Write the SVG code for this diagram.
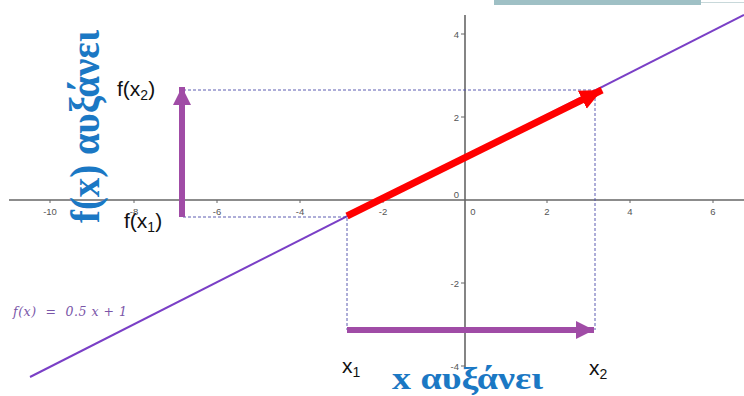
<svg xmlns="http://www.w3.org/2000/svg" width="744" height="396" viewBox="0 0 744 396">
<style>
.ax{stroke:#666;stroke-width:1.6;fill:none}
.tk{stroke:#666;stroke-width:1}
.tl{font-family:"Liberation Sans",Arial,sans-serif;font-size:9.5px;fill:#555}
.dash{stroke:#4a4aa8;stroke-width:0.9;stroke-dasharray:3 2;fill:none}
.lbl{font-family:"Liberation Sans",Arial,sans-serif;font-size:21px;fill:#111}
.big{font-family:"Liberation Serif","Times New Roman",serif;font-weight:bold;fill:#1b78c4}
.pa{stroke:#a04ca6;stroke-width:6;fill:none}
</style>
<defs>
<marker id="hp" markerUnits="userSpaceOnUse" markerWidth="20" markerHeight="20" viewBox="0 0 20 20" refX="18" refY="10" orient="auto">
<path d="M0,1 L18,10 L0,19 Z" fill="#a04ca6"/>
</marker>
<marker id="hr" markerUnits="userSpaceOnUse" markerWidth="24" markerHeight="22" viewBox="0 0 24 22" refX="22" refY="11" orient="auto">
<path d="M0,1 L22,11 L0,21 Z" fill="#ff0000"/>
</marker>
</defs>
<rect x="0" y="0" width="744" height="396" fill="#ffffff"/>
<g id="header-bar">
<rect x="494" y="0" width="207" height="5" fill="#9fc0c5"/>
<line x1="701" y1="2.5" x2="744" y2="2.5" stroke="#c8d8da" stroke-width="1"/>
</g>
<g id="axes">
<line class="ax" x1="9" y1="200" x2="744" y2="200"/>
<line class="ax" x1="465" y1="15" x2="465" y2="368"/>
<g class="tk">
<line x1="50" y1="200" x2="50" y2="203"/>
<line x1="134" y1="200" x2="134" y2="203"/>
<line x1="217" y1="200" x2="217" y2="203"/>
<line x1="300" y1="200" x2="300" y2="203"/>
<line x1="383" y1="200" x2="383" y2="203"/>
<line x1="547" y1="200" x2="547" y2="203"/>
<line x1="630" y1="200" x2="630" y2="203"/>
<line x1="713" y1="200" x2="713" y2="203"/>
<line x1="461" y1="34" x2="465" y2="34"/>
<line x1="461" y1="117" x2="465" y2="117"/>
<line x1="461" y1="283" x2="465" y2="283"/>
<line x1="461" y1="366" x2="465" y2="366"/>
</g>
<g class="tl" text-anchor="middle">
<text x="50" y="215">-10</text>
<text x="134" y="215">-8</text>
<text x="217" y="215">-6</text>
<text x="300" y="215">-4</text>
<text x="383" y="215">-2</text>
<text x="473" y="215">0</text>
<text x="547" y="215">2</text>
<text x="630" y="215">4</text>
<text x="713" y="215">6</text>
</g>
<g class="tl" text-anchor="end">
<text x="459" y="38">4</text>
<text x="459" y="121">2</text>
<text x="459" y="198">0</text>
<text x="459" y="287">-2</text>
<text x="459" y="370">-4</text>
</g>
</g>
<g id="function-line">
<line x1="30" y1="377" x2="744" y2="15" stroke="#7a3fc6" stroke-width="2"/>
<text x="13" y="316" font-family="'DejaVu Serif','Liberation Serif',serif" font-style="italic" font-size="12.5" fill="#7a56a8" textLength="114" lengthAdjust="spacing" xml:space="preserve">f(x)  =  0.5 x + 1</text>
</g>
<g id="connectors">
<path class="dash" d="M183,90 H595 V330"/>
<path class="dash" d="M183,217 H347 V330"/>
<line x1="347" y1="216" x2="602" y2="90" stroke="#ff0000" stroke-width="7" marker-end="url(#hr)"/>
<line class="pa" x1="182" y1="217" x2="182" y2="87" marker-end="url(#hp)"/>
<line class="pa" x1="347" y1="330" x2="594" y2="330" marker-end="url(#hp)"/>
</g>
<g id="labels">
<text class="lbl" x="117" y="96">f(x<tspan font-size="14" dy="4">2</tspan><tspan dy="-4">)</tspan></text>
<text class="lbl" x="124" y="228">f(x<tspan font-size="14" dy="4">1</tspan><tspan dy="-4">)</tspan></text>
<text class="lbl" x="342" y="373">x<tspan font-size="14" dy="4">1</tspan></text>
<text class="lbl" x="589" y="375">x<tspan font-size="14" dy="4">2</tspan></text>
<text class="big" font-size="32" x="392" y="389" textLength="151" lengthAdjust="spacingAndGlyphs">x αυξάνει</text>
<text class="big" font-size="42" transform="translate(99,223) rotate(-90)" x="0" y="0" textLength="193" lengthAdjust="spacingAndGlyphs">f(x) αυξάνει</text>
</g>
</svg>
